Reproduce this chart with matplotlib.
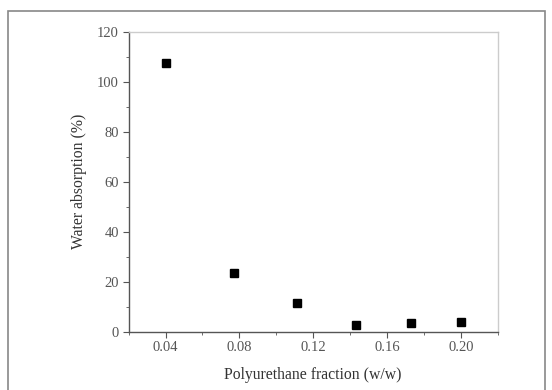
import matplotlib
matplotlib.use('Agg')
import matplotlib.pyplot as plt
from matplotlib.patches import Rectangle
from matplotlib.ticker import MultipleLocator

# data
pu_fraction = [0.040, 0.077, 0.111, 0.143, 0.173, 0.200]
water_absorption = [107.5, 23.5, 11.5, 2.6, 3.4, 3.9]

plt.rcParams['font.family'] = ['Liberation Serif', 'DejaVu Serif']

fig = plt.figure(figsize=(5.52, 3.9), dpi=100)
fig.patches.append(Rectangle((8 / 552, -0.05), (545 - 8) / 552, 1 - 11 / 390 + 0.05,
                             transform=fig.transFigure, fill=False,
                             edgecolor='#888888', linewidth=1.2))

ax = fig.add_axes([0.233, 0.1495, 0.6686, 0.7692])
ax.plot(pu_fraction, water_absorption, 's', color='black', markersize=5.3)

ax.set_xlim(0.02, 0.22)
ax.set_ylim(0, 120)
ax.xaxis.set_major_locator(MultipleLocator(0.04))
ax.xaxis.set_minor_locator(MultipleLocator(0.02))
ax.yaxis.set_major_locator(MultipleLocator(20))
ax.yaxis.set_minor_locator(MultipleLocator(10))
ax.set_xticks([0.04, 0.08, 0.12, 0.16, 0.20])
ax.set_xticklabels(['0.04', '0.08', '0.12', '0.16', '0.20'])

for side in ['left', 'bottom']:
    ax.spines[side].set_color('#555555')
    ax.spines[side].set_linewidth(1.0)
for side in ['top', 'right']:
    ax.spines[side].set_color('#cccccc')
    ax.spines[side].set_linewidth(1.0)

ax.tick_params(which='both', direction='out', color='#555555', top=False, right=False)
ax.tick_params(which='major', length=4, labelsize=10.5, labelcolor='#555555', pad=3)
ax.tick_params(which='minor', length=2.5)

ax.set_xlabel('Polyurethane fraction (w/w)', fontsize=11.3, color='#333333', labelpad=9)
ax.set_ylabel('Water absorption (%)', fontsize=11.3, color='#333333', labelpad=7)

fig.savefig('out.png', dpi=100)
